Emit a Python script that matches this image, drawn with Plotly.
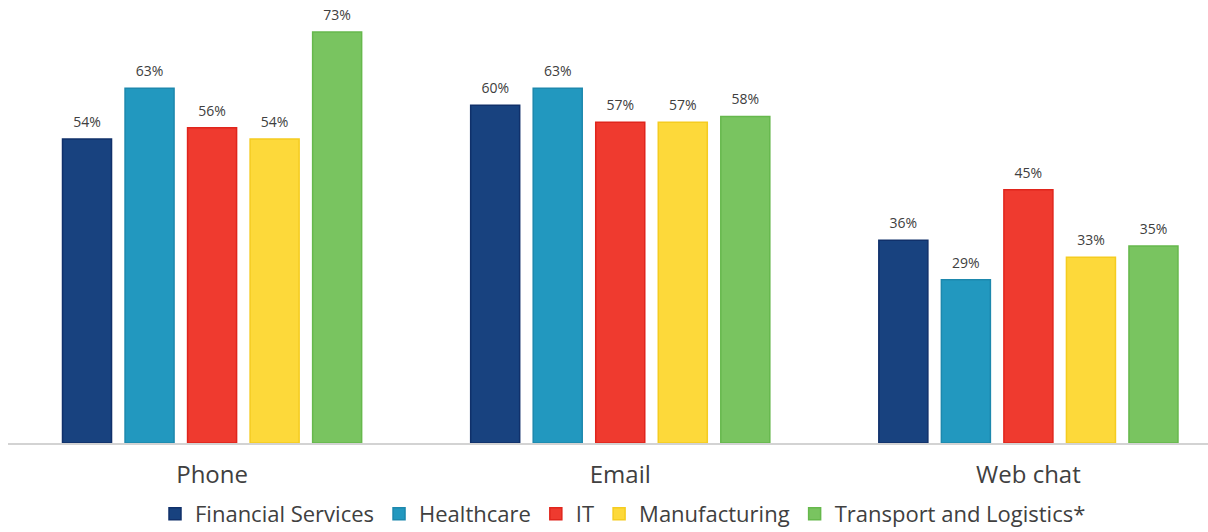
import plotly.graph_objects as go

categories = ["Phone", "Email", "Web chat"]
series_names = ["Financial Services", "Healthcare", "IT", "Manufacturing", "Transport and Logistics*"]
financial = [54, 60, 36]
healthcare = [63, 63, 29]
it = [56, 57, 45]
manufacturing = [54, 57, 33]
transport = [73, 58, 35]

values = [financial, healthcare, it, manufacturing, transport]
colors = ["#18427f", "#2298bf", "#ef3a2f", "#fdd93a", "#79c460"]
lines = ["#10306a", "#1d88ad", "#e0251c", "#f5cc20", "#66b84c"]

FONT = "Open Sans"
LABEL_PAD = 0.9  # extra gap (in data units) between bar top and its value label

fig = go.Figure()
for i, (name, vals, c, lc) in enumerate(zip(series_names, values, colors, lines)):
    fig.add_trace(go.Bar(
        name=name, x=categories, y=vals, offsetgroup=str(i),
        marker=dict(color=c, line=dict(color=lc, width=1.5)),
        hoverinfo="skip",
    ))
    # invisible spacer bar carrying the value label, stacked on top of the real bar
    fig.add_trace(go.Bar(
        name=name, x=categories, y=[LABEL_PAD] * len(vals), base=vals,
        offsetgroup=str(i), showlegend=False,
        marker=dict(color="rgba(0,0,0,0)", line=dict(width=0)),
        text=[f"{v}%" for v in vals], textposition="outside",
        textfont=dict(size=14, color="#404040", family=FONT),
        cliponaxis=False, hoverinfo="skip",
    ))

fig.update_layout(
    width=1208, height=532,
    margin=dict(l=8, r=0, t=0, b=89, autoexpand=False),
    paper_bgcolor="white", plot_bgcolor="white",
    barmode="group", bargap=0.234, bargroupgap=0.216,
    font=dict(family=FONT, color="#404040"),
    xaxis=dict(range=[-0.5, 2.44], showgrid=False, showline=True,
               linecolor="#d3d3d3", linewidth=2, automargin=False,
               ticks="outside", ticklen=9, tickcolor="rgba(0,0,0,0)",
               tickfont=dict(size=24, color="#404040", family=FONT)),
    yaxis=dict(range=[0, 78.7], visible=False),
    legend=dict(orientation="h", x=0.5125, xanchor="center", y=-0.16, yanchor="middle",
                font=dict(size=22, color="#404040", family=FONT),
                itemwidth=30, traceorder="normal"),
    showlegend=True,
)

fig.write_html("out.html")
